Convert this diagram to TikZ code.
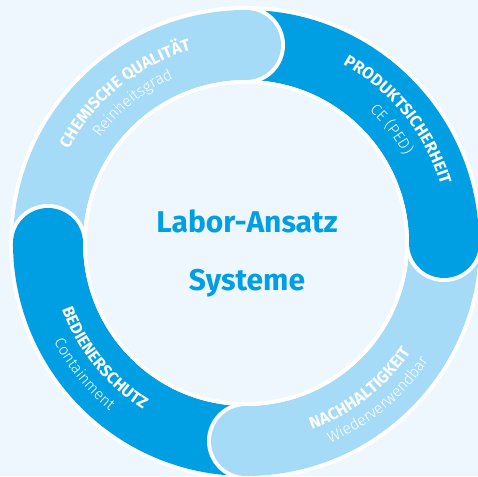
\documentclass[tikz,border=0pt]{standalone}
\usepackage{fontspec}
\setmainfont{Fira Sans}
\newfontfamily\lightfont{Fira Sans Light}
\usepackage{tikz}
\usetikzlibrary{decorations.text}
\definecolor{bg}{HTML}{EEF7FD}
\definecolor{dark}{HTML}{009FE3}
\definecolor{light}{HTML}{A5DBF7}
\newcommand\boldlab{\fontsize{16.5pt}{16.5pt}\selectfont\bfseries\color{white}}
\newcommand\thinlab{\fontsize{15.5pt}{15.5pt}\selectfont\lightfont\color{white}}

\begin{document}
\begin{tikzpicture}[x=1pt,y=1pt]
            \tikzset{seg/.style={line width=70pt},
                     lab/.style={decorate,decoration={text along path,text align=center,text={#1}}}}
            \useasboundingbox (-246,-233) rectangle (232,243);
            \fill[bg] (-246,-233) rectangle (232,243);
            \fill[white] (0,0) circle[radius=237pt];
            \draw[seg, light] (180:198) arc[start angle=180, end angle=90, radius=198pt];
            \draw[seg, dark] (90:198) arc[start angle=90, end angle=0, radius=198pt];
            \draw[seg, light] (0:198) arc[start angle=0, end angle=-90, radius=198pt];
            \draw[seg, dark] (-90:198) arc[start angle=-90, end angle=-180, radius=198pt];
            \foreach \a/\c in {90/light, 0/dark, -90/light, 180/dark} {
                \begin{scope}[rotate=\a]
                    \fill[white] (237,0) arc[start angle=0, end angle=-180, radius=39pt] -- cycle;
                    \fill[\c] (233,4) -- (233,0) arc[start angle=0, end angle=-180, radius=35pt] -- (163,4) -- cycle;
                \end{scope}
            }
            \fill[white] (0,0) circle[radius=163pt];
            \fill[bg] (0,0) circle[radius=159pt];
            \path[lab={|\boldlab|CHEMISCHE QUALITÄT}] (169:200.5) arc[start angle=169, end angle=89, radius=200.5pt];
            \path[lab={|\thinlab|Reinheitsgrad}] (169:180) arc[start angle=169, end angle=89, radius=180pt];
            \path[lab={|\boldlab|PRODUKTSICHERHEIT}] (79:203) arc[start angle=79, end angle=-1, radius=203pt];
            \path[lab={|\thinlab|CE (PED)}] (78:181) arc[start angle=78, end angle=-2, radius=181pt];
            \path[lab={|\boldlab|NACHHALTIGKEIT}] (-92:197.5) arc[start angle=-92, end angle=-12, radius=197.5pt];
            \path[lab={|\thinlab|Wiederverwendbar}] (-90:217) arc[start angle=-90, end angle=-10, radius=217pt];
            \path[lab={|\boldlab|BEDIENERSCHUTZ}] (179:195.5) arc[start angle=179, end angle=259, radius=195.5pt];
            \path[lab={|\thinlab|Containment}] (179:216) arc[start angle=179, end angle=259, radius=216pt];
            \node[font=\fontsize{30pt}{30pt}\selectfont\bfseries, text=dark, anchor=base] (L) at (1,10) {Labor-Ansatz};
            \node[font=\fontsize{30pt}{30pt}\selectfont\bfseries, text=dark, anchor=base] (S) at (1,-47) {Systeme};
        \end{tikzpicture}
\end{document}
